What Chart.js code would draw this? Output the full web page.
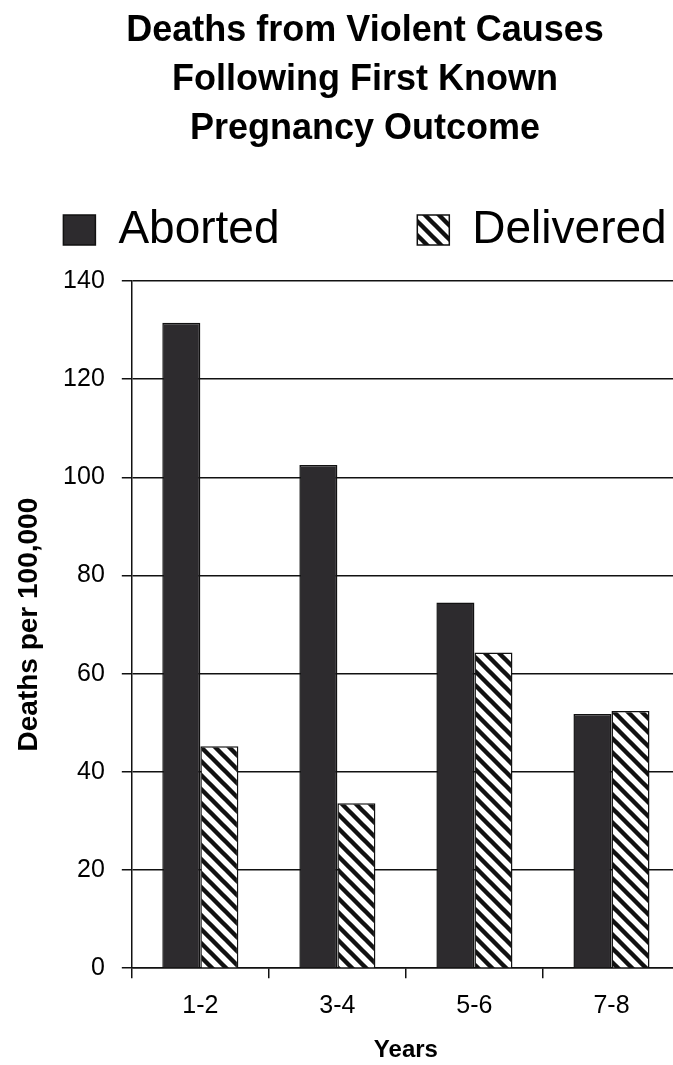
<!DOCTYPE html>
<html>
<head>
<meta charset="utf-8">
<script src="https://cdn.jsdelivr.net/npm/chart.js@4/dist/chart.umd.min.js"></script>
<style>
  html, body { margin: 0; padding: 0; background: #fff; overflow: hidden; }
  #wrap { width: 673px; height: 1065px; overflow: hidden; }
  canvas { display: block; }
</style>
</head>
<body>
<div id="wrap"><canvas id="c" width="730" height="1065"></canvas></div>
<script>
const titleLines = ['Deaths from Violent Causes', 'Following First Known', 'Pregnancy Outcome'];
const categories = ['1-2', '3-4', '5-6', '7-8'];
const seriesNames = ['Aborted', 'Delivered'];
const aborted = [131.5, 102.5, 74.5, 51.8];
const delivered = [45.2, 33.6, 64.3, 52.4];
const yTicks = [0, 20, 40, 60, 80, 100, 120, 140];
const yTitle = 'Deaths per 100,000';
const xTitle = 'Years';

const FONT = "'Liberation Sans', Arial, Helvetica, sans-serif";
Chart.defaults.font.family = FONT;
Chart.defaults.color = '#000';

function hatch() {
  const s = 14;
  const c = document.createElement('canvas');
  c.width = s; c.height = s;
  const g = c.getContext('2d');
  g.fillStyle = '#fff';
  g.fillRect(0, 0, s, s);
  g.strokeStyle = '#111';
  g.lineWidth = 4.4;
  g.beginPath();
  for (let k = -1; k <= 1; k++) {
    g.moveTo(k * s - 2, -2);
    g.lineTo(k * s + s + 2, s + 2);
  }
  g.stroke();
  return g.createPattern(c, 'repeat');
}

const ctx = document.getElementById('c').getContext('2d');
new Chart(ctx, {
  type: 'bar',
  data: {
    labels: categories,
    datasets: [
      {
        label: seriesNames[0],
        data: aborted,
        backgroundColor: '#2d2b2e',
        borderColor: '#111',
        borderWidth: 1.5,
        categoryPercentage: 0.555,
        barPercentage: 1.0
      },
      {
        label: seriesNames[1],
        data: delivered,
        backgroundColor: hatch(),
        borderColor: '#111',
        borderWidth: 1.5,
        categoryPercentage: 0.555,
        barPercentage: 1.0
      }
    ]
  },
  options: {
    responsive: false,
    animation: false,
    devicePixelRatio: 1,
    layout: { padding: { left: 0, right: 0, top: 0, bottom: 0 } },
    plugins: {
      tooltip: { enabled: false },
      title: {
        display: true,
        text: titleLines,
        color: '#000',
        font: { size: 36, weight: 'bold', lineHeight: '49px' },
        padding: { top: 7, bottom: 43 }
      },
      legend: {
        display: true,
        position: 'top',
        labels: {
          color: '#000',
          boxWidth: 32,
          boxHeight: 30,
          padding: 10,
          font: { size: 46 },
          generateLabels: function (chart) {
            const items = Chart.defaults.plugins.legend.labels.generateLabels(chart);
            if (items[0]) items[0].text = items[0].text + '          ';
            return items;
          }
        }
      },
      subtitle: {
        display: true,
        text: ' ',
        weight: 500,
        position: 'top',
        font: { size: 1, lineHeight: '18px' },
        padding: 0
      }
    },
    scales: {
      x: {
        offset: true,
        grid: {
          display: true,
          offset: true,
          drawOnChartArea: false,
          drawTicks: true,
          tickLength: 10,
          color: '#111',
          lineWidth: 1.5
        },
        border: { display: true, color: '#111', width: 1.5 },
        ticks: { color: '#000', font: { size: 25 }, padding: 13 },
        title: {
          display: true,
          text: xTitle,
          color: '#000',
          font: { size: 24, weight: 'bold' },
          padding: { top: 2, bottom: 0 }
        }
      },
      y: {
        min: 0,
        max: 140,
        afterBuildTicks: function (axis) { axis.ticks = yTicks.map(v => ({ value: v })); },
        grid: {
          display: true,
          drawTicks: true,
          tickLength: 10,
          color: '#111',
          lineWidth: 1.5
        },
        border: { display: true, color: '#111', width: 1.5 },
        ticks: { color: '#000', font: { size: 25 }, padding: 17 },
        title: {
          display: true,
          text: yTitle,
          color: '#000',
          font: { size: 28, weight: 'bold' },
          padding: { top: 12.5, bottom: 0 }
        }
      },
      yRight: {
        position: 'right',
        display: true,
        min: 0,
        max: 140,
        grid: { display: false, drawOnChartArea: false },
        border: { display: false },
        ticks: { display: false },
        afterFit: function (axis) { axis.width = 50; }
      }
    }
  }
});
</script>
</body>
</html>
